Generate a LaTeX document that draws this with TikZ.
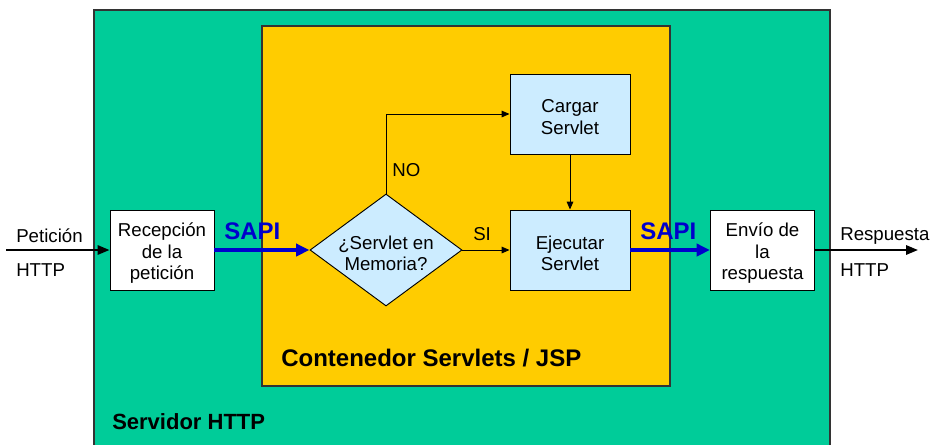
\documentclass[tikz,border=0pt]{standalone}
\usepackage{fontspec}
\setmainfont{Liberation Sans}
\usetikzlibrary{arrows.meta,shapes.geometric,calc}
\definecolor{srvgreen}{HTML}{00CC99}
\definecolor{contyellow}{HTML}{FFCC00}
\definecolor{boxblue}{HTML}{CCECFF}
\definecolor{sapiblue}{HTML}{0000CC}
\definecolor{edgegray}{HTML}{333333}
\tikzset{
  body/.style={font=\fontsize{14}{16.2}\selectfont, text=black},
  boxtext/.style={body, align=center, inner sep=0pt, yshift=-2.5pt},
  procbox/.style={draw=black, line width=0.7pt, minimum width=78pt, minimum height=60pt, inner sep=0pt},
  whitebox/.style={procbox, fill=white},
  bluebox/.style={procbox, fill=boxblue, minimum width=90pt},
  decision/.style={draw=black, line width=0.7pt, fill=boxblue, shape=diamond, aspect=1.36, inner sep=0pt, minimum width=114pt, minimum height=84pt},
  flow/.style={draw=black, line width=0.7pt, -{Triangle[length=6pt,width=5pt]}},
  bigflow/.style={draw=black, line width=1.6pt, -{Triangle[length=9pt,width=7pt]}},
  sapiflow/.style={draw=sapiblue, line width=3pt, -{Triangle[length=10pt,width=9pt]}},
  sapilabel/.style={font=\fontsize{18}{20}\bfseries\selectfont, text=sapiblue, anchor=west, inner sep=0pt},
  plain/.style={body, anchor=west, inner sep=0pt},
  title/.style={font=\fontsize{18}{20}\bfseries\selectfont, text=black, anchor=west, inner sep=0pt},
}
\begin{document}
\begin{tikzpicture}[x=0.75pt,y=-0.75pt]
\path[use as bounding box, clip] (0,0) rectangle (930,444);
\fill[white] (0,0) rectangle (930,444);
% containers
\draw[fill=srvgreen, draw=edgegray, line width=0.8pt] (94,10) rectangle (830,460);
\draw[fill=contyellow, draw=edgegray, line width=0.8pt] (262,26) rectangle (670,386);
% nodes
\node[whitebox, label={[boxtext]center:{Recepción\\de la\\petición}}] (rec) at (162,250) {};
\node[whitebox, label={[boxtext]center:{Envío de\\la\\respuesta}}] (env) at (762.5,250) {};
\node[bluebox, label={[boxtext]center:{Cargar\\Servlet}}] (car) at (570,114) {};
\node[bluebox, label={[boxtext]center:{Ejecutar\\Servlet}}] (eje) at (570,250) {};
\node[decision, label={[boxtext]center:{¿Servlet en\\Memoria?}}] (dia) at (386,250) {};
\coordinate (inp) at (6,250);
\coordinate (out) at (918,250);
% labels
\node[plain] (lpet) at (16,236) {Petición};
\node[plain] (lhttp1) at (16,270) {HTTP};
\node[plain] (lres) at (840,236) {Respuesta};
\node[plain] (lhttp2) at (840,270) {HTTP};
\node[sapilabel] (sapi1) at (224,231) {SAPI};
\node[sapilabel] (sapi2) at (640,231) {SAPI};
\node[plain] (lno) at (392,170) {NO};
\node[plain] (lsi) at (473,234) {SI};
\node[title] (tcont) at (281,358) {Contenedor Servlets / JSP};
\node[title, font=\fontsize{16.5}{19}\bfseries\selectfont] (tsrv) at (112,422) {Servidor HTTP};
% connectors
\draw[bigflow] (inp) -- (rec.west);
\draw[sapiflow] (rec.east) -- (dia.west);
\draw[flow] (dia.east) -- (eje.west);
\draw[flow] (dia.north) |- (car.west);
\draw[flow] (car.south) -- (eje.north);
\draw[sapiflow] (eje.east) -- (env.west);
\draw[bigflow] (env.east) -- (out);
\end{tikzpicture}
\end{document}
